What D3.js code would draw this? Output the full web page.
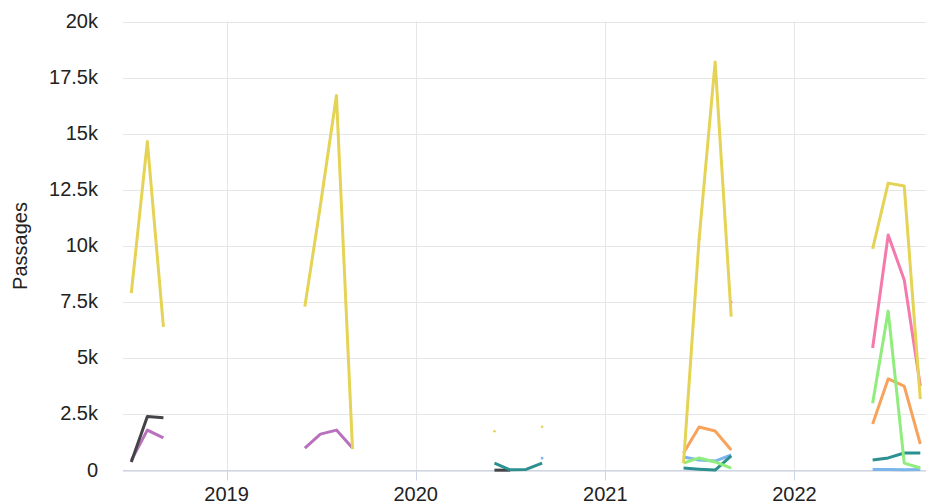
<!DOCTYPE html>
<meta charset="utf-8">
<head>
  <style>
    body { margin: 0; background: #fff; }
    svg { display: block; font-family: "Liberation Sans", Arial, sans-serif; }
  </style>
</head>
<body>
<svg id="chart" width="926" height="504"></svg>
<script src="https://cdn.jsdelivr.net/npm/d3@7"></script>
<script>

// months that have data (Jun-Sep seasons)
var months = [
  "2018-07", "2018-08", "2018-09",
  "2019-06", "2019-07", "2019-08", "2019-09",
  "2020-06", "2020-07", "2020-08", "2020-09",
  "2021-06", "2021-07", "2021-08", "2021-09",
  "2022-06", "2022-07", "2022-08", "2022-09"
];

// one array per series, aligned with months (null = no data)
var yellow = [7900, 14650, 6400,  7300, 11800, 16700, 950,  1750, null, null, 1950,  330, 10300, 18200, 6850,  9870, 12800, 12670, 3180];
var pink   = [null, null, null,   null, null, null, null,   null, null, null, null,  null, 10300, null, 7500,  5460, 10490, 8490, 3760];
var green  = [null, null, null,   null, null, null, null,   null, null, null, null,  330, 560, 380, 110,     3000, 7100, 330, 110];
var orange = [null, null, null,   null, null, null, null,   null, null, null, null,  780, 1940, 1760, 910,   2070, 4080, 3760, 1180];
var teal   = [null, null, null,   null, null, null, null,   330, 30, 50, 330,        110, 60, 20, 650,       470, 560, 780, 780];
var blue   = [null, null, null,   null, null, null, null,   null, null, null, 550,   600, 470, 420, 690,     40, 40, 30, 40];
var gray   = [380, 2400, 2350,    null, null, null, null,   15, 15, null, null,      null, null, null, null, null, null, null, null];
var purple = [450, 1800, 1450,    1000, 1620, 1800, 1000,   null, null, null, null,  null, null, null, null, null, null, null, null];

var series = [
  {name: "purple", values: purple, color: "#b872bd"},
  {name: "gray",   values: gray,   color: "#434348"},
  {name: "blue",   values: blue,   color: "#7cb5ec"},
  {name: "teal",   values: teal,   color: "#2b908f"},
  {name: "orange", values: orange, color: "#f7a35c"},
  {name: "green",  values: green,  color: "#90ed7d"},
  {name: "pink",   values: pink,   color: "#f47aab"},
  {name: "yellow", values: yellow, color: "#e4d354"}
];

var yTicks = [0, 2500, 5000, 7500, 10000, 12500, 15000, 17500, 20000];
var yearTicks = ["2019", "2020", "2021", "2022"];

var svg = d3.select("#chart"),
    plotLeft = 123, plotRight = 926, plotTop = 21.5, plotBottom = 470.5;

var parseMonth = d3.utcParse("%Y-%m");
var dates = months.map(parseMonth);

var x = d3.scaleUtc()
    .domain([new Date(Date.UTC(2018, 5, 15)), new Date(Date.UTC(2022, 8, 12))])
    .range([plotLeft, plotRight]);

var y = d3.scaleLinear()
    .domain([0, 20000])
    .range([plotBottom, plotTop]);

var fmt = function(d) { return d === 0 ? "0" : (d / 1000) + "k"; };

// horizontal grid
svg.append("g")
  .selectAll("line")
  .data(yTicks)
  .enter()
  .append("line")
    .attr("x1", plotLeft).attr("x2", plotRight)
    .attr("y1", function(d){ return Math.round(y(d)) + 0.5 })
    .attr("y2", function(d){ return Math.round(y(d)) + 0.5 })
    .attr("stroke", "#e6e6e6");

// y labels
svg.append("g")
  .selectAll("text")
  .data(yTicks)
  .enter()
  .append("text")
    .attr("x", 98)
    .attr("y", function(d){ return y(d) + 6 })
    .attr("text-anchor", "end")
    .style("font-size", "20px")
    .style("fill", "#222")
    .text(fmt);

svg.append("text")
  .attr("transform", "translate(27," + ((plotTop + plotBottom) / 2) + ") rotate(-90)")
  .attr("text-anchor", "middle")
  .style("font-size", "20px")
  .style("fill", "#222")
  .text("Passages");

// vertical grid + ticks for years
var yearDates = yearTicks.map(function(t){ return d3.utcParse("%Y")(t) });
var xg = svg.append("g");
xg.selectAll("line.grid")
  .data(yearDates)
  .enter()
  .append("line")
    .attr("class", "grid")
    .attr("x1", function(d){ return Math.round(x(d)) + 0.5 })
    .attr("x2", function(d){ return Math.round(x(d)) + 0.5 })
    .attr("y1", plotTop).attr("y2", plotBottom)
    .attr("stroke", "#e6e6e6");
xg.selectAll("line.tick")
  .data(yearDates)
  .enter()
  .append("line")
    .attr("class", "tick")
    .attr("x1", function(d){ return Math.round(x(d)) + 0.5 })
    .attr("x2", function(d){ return Math.round(x(d)) + 0.5 })
    .attr("y1", plotBottom).attr("y2", plotBottom + 10)
    .attr("stroke", "#ccd6eb");
xg.selectAll("text")
  .data(yearDates)
  .enter()
  .append("text")
    .attr("x", function(d){ return x(d) })
    .attr("y", 501)
    .attr("text-anchor", "middle")
    .style("font-size", "20px")
    .style("fill", "#222")
    .text(d3.utcFormat("%Y"));

svg.append("line")
  .attr("x1", plotLeft).attr("x2", plotRight)
  .attr("y1", plotBottom).attr("y2", plotBottom)
  .attr("stroke", "#ccd6eb");

// split each series into runs of consecutive months with data
function segments(values) {
  var segs = [], cur = [];
  values.forEach(function(v, i) {
    var prev = i > 0 ? dates[i - 1] : null;
    var consecutive = prev && d3.utcMonth.count(prev, dates[i]) === 1;
    if (v == null || !consecutive) {
      if (cur.length) segs.push(cur);
      cur = [];
    }
    if (v != null) cur.push({date: dates[i], value: v});
  });
  if (cur.length) segs.push(cur);
  return segs;
}

var line = d3.line()
  .x(function(d){ return x(d.date) })
  .y(function(d){ return y(d.value) });

var plot = svg.append("g");
series.forEach(function(s) {
  var segs = segments(s.values);
  plot.selectAll(null)
    .data(segs.filter(function(g){ return g.length > 1 }))
    .enter()
    .append("path")
      .attr("d", line)
      .attr("fill", "none")
      .attr("stroke", s.color)
      .attr("stroke-width", 3)
      .attr("stroke-linejoin", "round");
  plot.selectAll(null)
    .data(segs.filter(function(g){ return g.length === 1 }))
    .enter()
    .append("circle")
      .attr("cx", function(g){ return x(g[0].date) })
      .attr("cy", function(g){ return y(g[0].value) })
      .attr("r", 1.3)
      .attr("fill", s.color);
});

</script>
</body>
